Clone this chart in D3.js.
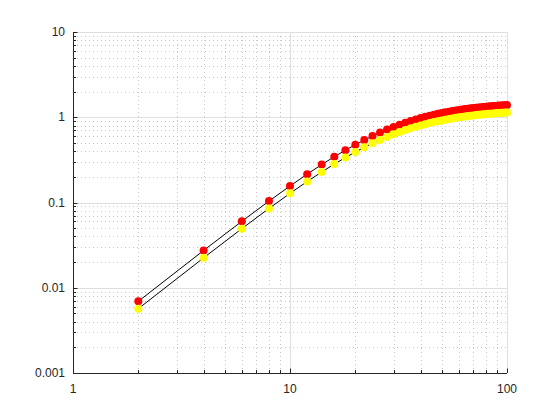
<!DOCTYPE html>
<html><head><meta charset="utf-8">
<script src="https://cdn.jsdelivr.net/npm/d3@7"></script>
<style>body{margin:0;background:#fff;} svg{display:block;}</style>
</head><body>
<svg id="c" width="560" height="420"></svg>
<script>
const xValues = [2,4,6,8,10,12,14,16,18,20,22,24,26,28,30,32,34,36,38,40,42,44,46,48,50,52,54,56,58,60,62,64,66,68,70,72,74,76,78,80,82,84,86,88,90,92,94,96,98,100];
const redValues = [0.00693,0.0274,0.0602,0.1038,0.1562,0.2151,0.2784,0.3442,0.4108,0.4767,0.5410,0.6027,0.6615,0.7170,0.7691,0.8177,0.8629,0.9047,0.9435,0.9793,1.0124,1.0429,1.0711,1.0971,1.1212,1.1434,1.1639,1.1830,1.2006,1.2169,1.2321,1.2462,1.2594,1.2716,1.2830,1.2936,1.3036,1.3129,1.3217,1.3298,1.3375,1.3448,1.3516,1.3580,1.3640,1.3697,1.3751,1.3802,1.3850,1.3895];
const yellowValues = [0.00568,0.02243,0.04935,0.0851,0.1280,0.1763,0.2282,0.2821,0.3367,0.3907,0.4435,0.4940,0.5422,0.5877,0.6304,0.6703,0.7073,0.7416,0.7734,0.8027,0.8299,0.8549,0.8780,0.8993,0.9190,0.9373,0.9540,0.9697,0.9841,0.9975,1.0099,1.0215,1.0323,1.0423,1.0517,1.0604,1.0686,1.0762,1.0834,1.0900,1.0963,1.1023,1.1079,1.1132,1.1181,1.1227,1.1272,1.1313,1.1353,1.1390];
const xTicks = [1,10,100];
const xTickLabels = ["1","10","100"];
const yTicks = [0.001,0.01,0.1,1,10];
const yTickLabels = ["0.001","0.01","0.1","1","10"];

const L=73, R=507, T=32, B=373;
const svg = d3.select("#c");
const x = d3.scaleLog().domain([1,100]).range([L,R]);
const y = d3.scaleLog().domain([0.001,10]).range([B,T]);

const minorX = [], minorY = [];
for (let d=1; d<100; d*=10) for (let k=2;k<=9;k++) minorX.push(d*k);
for (let d=0.001; d<9; d*=10) for (let k=2;k<=9;k++) minorY.push(+(d*k).toPrecision(3));

const g = svg.append("g");
// minor grid
g.selectAll(".mgx").data(minorX).enter().append("line")
  .attr("x1",d=>Math.round(x(d))+0.5).attr("x2",d=>Math.round(x(d))+0.5)
  .attr("y1",T).attr("y2",B).attr("stroke","#c4c4c4").attr("stroke-width",1).attr("stroke-dasharray","1,3");
g.selectAll(".mgy").data(minorY).enter().append("line")
  .attr("y1",d=>Math.round(y(d))+0.5).attr("y2",d=>Math.round(y(d))+0.5)
  .attr("x1",L).attr("x2",R).attr("stroke","#c4c4c4").attr("stroke-width",1).attr("stroke-dasharray","1,3");
// major grid
g.selectAll(".gx").data(xTicks).enter().append("line")
  .attr("x1",d=>Math.round(x(d))+0.5).attr("x2",d=>Math.round(x(d))+0.5)
  .attr("y1",T).attr("y2",B).attr("stroke","#dfdfdf");
g.selectAll(".gy").data(yTicks).enter().append("line")
  .attr("y1",d=>Math.round(y(d))+0.5).attr("y2",d=>Math.round(y(d))+0.5)
  .attr("x1",L).attr("x2",R).attr("stroke","#dfdfdf");

// lines and markers
const redPts = xValues.map((v,i)=>[v,redValues[i]]);
const yelPts = xValues.map((v,i)=>[v,yellowValues[i]]);
const line = d3.line().x(d=>x(d[0])).y(d=>y(d[1]));
svg.append("path").attr("d",line(redPts)).attr("fill","none").attr("stroke","#000").attr("stroke-width",1);
svg.append("path").attr("d",line(yelPts)).attr("fill","none").attr("stroke","#000").attr("stroke-width",1);
svg.append("g").selectAll("circle").data(redPts).enter().append("circle")
  .attr("cx",d=>x(d[0])).attr("cy",d=>y(d[1])).attr("r",4).attr("fill","#ff0000");
svg.append("g").selectAll("circle").data(yelPts).enter().append("circle")
  .attr("cx",d=>x(d[0])).attr("cy",d=>y(d[1])).attr("r",4).attr("fill","#ffff00");

// axes
const ax = svg.append("g").attr("fill","none").attr("stroke","#262626");
ax.append("line").attr("x1",L).attr("x2",R).attr("y1",B+0.5).attr("y2",B+0.5);
ax.append("line").attr("x1",L+0.5).attr("x2",L+0.5).attr("y1",T).attr("y2",B+0.5);
ax.selectAll(".tx").data(xTicks).enter().append("line")
  .attr("x1",d=>Math.round(x(d))+0.5).attr("x2",d=>Math.round(x(d))+0.5).attr("y1",B).attr("y2",B-4.5);
ax.selectAll(".mtx").data(minorX).enter().append("line")
  .attr("x1",d=>Math.round(x(d))+0.5).attr("x2",d=>Math.round(x(d))+0.5).attr("y1",B).attr("y2",B-3);
ax.selectAll(".ty").data(yTicks).enter().append("line")
  .attr("y1",d=>Math.round(y(d))+0.5).attr("y2",d=>Math.round(y(d))+0.5).attr("x1",L).attr("x2",L+4.5);
ax.selectAll(".mty").data(minorY).enter().append("line")
  .attr("y1",d=>Math.round(y(d))+0.5).attr("y2",d=>Math.round(y(d))+0.5).attr("x1",L).attr("x2",L+3);

const txt = svg.append("g").attr("font-family","Liberation Sans, Arial, sans-serif").attr("font-size","12px").attr("fill","#262626");
txt.selectAll(".xl").data(xTicks).enter().append("text")
  .attr("x",d=>x(d)).attr("y",B+20).attr("text-anchor","middle").text((d,i)=>xTickLabels[i]);
txt.selectAll(".yl").data(yTicks).enter().append("text")
  .attr("x",L-8).attr("y",d=>y(d)+4).attr("text-anchor","end").text((d,i)=>yTickLabels[i]);
</script>
</body></html>
